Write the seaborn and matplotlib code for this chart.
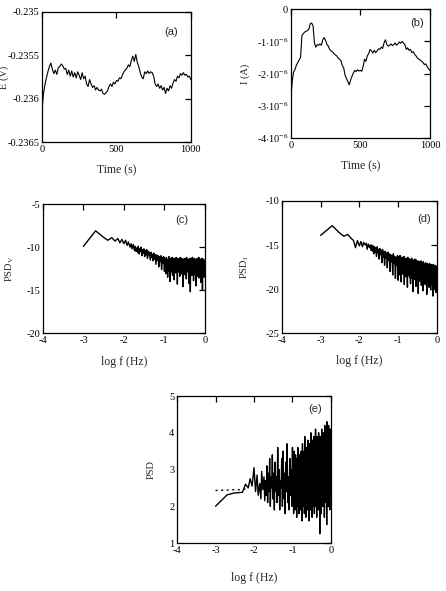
import numpy as np
import pandas as pd
import matplotlib
matplotlib.use("Agg")
import matplotlib.pyplot as plt
import seaborn as sns

# ---------------- data ----------------
time_a = np.linspace(0, 1000, 101)
E_volts = [-0.23614, -0.23595, -0.23584, -0.23576, -0.23569, -0.23563, -0.23559, -0.23566, -0.23571, -0.23567,
           -0.23572, -0.23564, -0.23563, -0.23560, -0.23562, -0.23566, -0.23565, -0.23572, -0.23567, -0.23574,
           -0.23568, -0.23575, -0.23570, -0.23576, -0.23569, -0.23573, -0.23578, -0.23570, -0.23577, -0.23574,
           -0.23583, -0.23586, -0.23578, -0.23583, -0.23587, -0.23585, -0.23590, -0.23587, -0.23590, -0.23591,
           -0.23589, -0.23594, -0.23595, -0.23593, -0.23591, -0.23586, -0.23583, -0.23586, -0.23581, -0.23583,
           -0.23579, -0.23580, -0.23576, -0.23577, -0.23573, -0.23569, -0.23567, -0.23565, -0.23561, -0.23563,
           -0.23556, -0.23551, -0.23557, -0.23549, -0.23558, -0.23563, -0.23570, -0.23575, -0.23577, -0.23569,
           -0.23571, -0.23568, -0.23571, -0.23569, -0.23570, -0.23574, -0.23583, -0.23586, -0.23583, -0.23588,
           -0.23585, -0.23590, -0.23587, -0.23594, -0.23588, -0.23591, -0.23585, -0.23588, -0.23582, -0.23578,
           -0.23580, -0.23574, -0.23576, -0.23571, -0.23573, -0.23570, -0.23573, -0.23572, -0.23575, -0.23574,
           -0.23578]

time_b = np.linspace(0, 1000, 101)
I_microamps = [-2.81, -2.25, -1.95, -1.88, -1.74, -1.66, -1.58, -1.50, -0.82, -0.76,
               -0.71, -0.69, -0.66, -0.62, -0.45, -0.43, -0.52, -1.05, -1.18, -1.10,
               -1.12, -1.08, -1.12, -0.95, -0.88, -0.97, -1.10, -1.15, -1.25, -1.30,
               -1.33, -1.38, -1.42, -1.45, -1.52, -1.55, -1.60, -1.75, -1.82, -2.05,
               -2.15, -2.25, -2.35, -2.20, -2.08, -1.98, -1.90, -1.94, -1.88, -1.92,
               -1.90, -1.93, -1.78, -1.55, -1.62, -1.45, -1.38, -1.25, -1.30, -1.36,
               -1.28, -1.35, -1.30, -1.23, -1.25, -1.18, -1.22, -1.05, -0.95, -1.10,
               -1.15, -1.12, -1.08, -1.13, -1.10, -1.05, -1.12, -1.08, -1.02, -1.06,
               -1.00, -1.05, -1.10, -1.25, -1.20, -1.28, -1.25, -1.35, -1.32, -1.40,
               -1.45, -1.52, -1.55, -1.58, -1.62, -1.65, -1.72, -1.70, -1.78, -1.85,
               -1.90]

# frequency grid (log10 f): first 20 harmonics, then a mid and a dense band
logf_low = [-3.00, -2.70, -2.52, -2.40, -2.30, -2.22, -2.15, -2.10, -2.05, -2.00,
            -1.96, -1.92, -1.89, -1.85, -1.82, -1.80, -1.77, -1.74, -1.72, -1.70]
logf_mid = np.linspace(-1.68, -1.0, 40)
logf_high = np.linspace(-0.99, 0.0, 100)

psdv_low = [-9.9, -8.1, -8.8, -9.2, -8.9, -9.3, -9.0, -9.5, -9.1, -9.6,
            -9.2, -9.8, -9.4, -10.0, -9.6, -10.2, -9.7, -10.4, -9.9, -10.5]
psdv_mid = [-10.1, -10.6, -9.9, -10.8, -10.2, -10.5, -10.0, -11.0, -10.3, -10.7,
            -10.2, -11.1, -10.4, -10.9, -10.3, -11.3, -10.5, -11.0, -10.6, -11.5,
            -10.6, -11.2, -10.8, -11.6, -10.7, -11.4, -10.9, -12.0, -10.9, -11.5,
            -11.0, -12.3, -11.1, -11.7, -11.0, -12.6, -11.2, -11.9, -11.1, -12.8]
psdv_high = [-11.3, -12.6, -11.5, -13.1, -11.2, -12.4, -11.6, -13.5, -11.4, -12.8,
             -11.1, -12.5, -11.7, -14.0, -11.3, -12.9, -11.5, -12.3, -11.2, -13.3,
             -11.6, -12.7, -11.3, -13.8, -11.4, -12.6, -11.8, -13.0, -11.2, -12.4,
             -11.5, -14.3, -11.3, -12.9, -11.7, -12.5, -11.4, -13.4, -11.2, -12.7,
             -11.6, -13.1, -11.3, -12.6, -11.8, -14.6, -11.4, -12.8, -11.5, -13.2,
             -11.3, -12.5, -11.7, -13.7, -11.2, -12.9, -11.6, -12.4, -11.4, -14.2,
             -11.5, -13.0, -11.3, -15.2, -11.6, -12.7, -11.4, -13.3, -11.2, -12.6,
             -11.7, -13.9, -11.3, -12.8, -11.5, -13.2, -11.4, -14.5, -11.6, -12.7,
             -11.3, -13.4, -11.5, -12.9, -11.2, -13.6, -11.7, -12.6, -11.4, -14.1,
             -11.5, -13.0, -11.3, -15.0, -11.6, -12.8, -11.4, -13.5, -11.7, -12.9]

psdi_low = [-13.9, -12.8, -13.6, -14.0, -13.8, -14.2, -14.5, -15.3, -14.5, -15.1,
            -14.6, -15.2, -14.7, -15.0, -14.8, -15.5, -14.9, -15.3, -15.0, -15.6]
psdi_mid = [-15.0, -15.7, -15.1, -16.0, -15.2, -15.8, -15.3, -16.3, -15.2, -15.9,
            -15.5, -16.6, -15.4, -16.1, -15.6, -17.0, -15.5, -16.4, -15.8, -17.3,
            -15.7, -16.5, -15.9, -17.6, -15.8, -16.7, -16.0, -18.0, -16.1, -16.9,
            -16.2, -18.4, -16.0, -17.1, -16.3, -18.8, -16.4, -17.3, -16.2, -19.0]
psdi_high = [-16.3, -17.9, -16.5, -18.4, -16.2, -17.7, -16.6, -19.2, -16.4, -18.0,
             -16.4, -18.3, -16.6, -17.9, -16.3, -19.5, -16.5, -18.2, -16.7, -18.6,
             -16.5, -18.0, -16.7, -19.8, -16.4, -18.5, -16.8, -18.2, -16.6, -18.7,
             -16.6, -19.4, -16.8, -18.3, -16.5, -18.8, -16.9, -20.3, -16.7, -18.5,
             -16.8, -18.9, -16.6, -18.4, -17.0, -19.7, -16.7, -18.6, -16.9, -19.0,
             -16.8, -20.5, -17.0, -18.7, -16.9, -19.1, -17.1, -18.8, -16.8, -19.6,
             -17.0, -18.9, -17.2, -20.2, -16.9, -19.2, -17.1, -18.9, -17.3, -19.5,
             -17.0, -19.1, -17.2, -20.6, -17.1, -19.3, -17.4, -19.0, -17.2, -19.8,
             -17.1, -19.3, -17.3, -20.1, -17.2, -19.5, -17.5, -19.2, -17.3, -20.8,
             -17.2, -19.4, -17.5, -19.9, -17.3, -19.6, -17.6, -20.4, -17.4, -19.5]

psd_low = [2.00, 2.31, 2.36, 2.37, 2.38, 2.60, 2.50, 2.75, 2.55, 3.05,
           2.40, 2.85, 2.30, 2.62, 2.20, 2.95, 2.45, 2.80, 2.15, 2.70]
psd_mid = [2.3, 3.1, 2.1, 2.9, 2.4, 3.3, 2.0, 2.8, 2.5, 3.4,
           2.2, 2.9, 1.9, 3.2, 2.4, 2.8, 2.1, 3.6, 2.3, 3.0,
           1.9, 2.7, 2.5, 3.3, 2.0, 3.5, 2.2, 2.9, 1.8, 3.2,
           2.4, 3.7, 2.1, 2.8, 1.9, 3.3, 2.3, 3.0, 2.0, 3.6]
psd_high = [2.1, 3.2, 1.8, 3.5, 2.3, 3.0, 1.9, 3.4, 2.2, 3.1,
            1.7, 3.3, 2.4, 3.6, 2.0, 3.1, 1.8, 3.4, 2.3, 3.2,
            1.9, 3.5, 2.1, 3.3, 1.6, 3.7, 2.3, 3.2, 2.0, 3.5,
            1.8, 3.9, 2.2, 3.4, 1.7, 3.6, 2.4, 3.3, 1.9, 3.8,
            2.1, 3.5, 1.6, 3.7, 2.3, 3.4, 1.9, 4.0, 2.2, 3.6,
            1.7, 3.8, 2.4, 3.5, 2.0, 3.9, 1.8, 3.6, 2.3, 4.1,
            2.0, 3.7, 1.7, 3.9, 2.4, 3.6, 1.9, 4.0, 2.2, 3.8,
            1.25, 3.9, 2.3, 3.7, 1.8, 4.1, 2.5, 3.8, 2.0, 4.0,
            2.3, 3.9, 1.7, 4.2, 2.4, 3.8, 2.1, 4.0, 1.5, 4.3,
            2.5, 3.9, 2.0, 4.2, 2.3, 3.8, 1.9, 4.1, 2.4, 3.6]
logf_ref = [-3.00, -2.70, -2.52, -2.40, -2.30, -2.22]
psd_ref = [2.43, 2.44, 2.45, 2.45, 2.46, 2.47]

yticks_b = [0, -1e-6, -2e-6, -3e-6, -4e-6]
yticklabels_b = ["0", r"-1$\cdot$10$^{-6}$", r"-2$\cdot$10$^{-6}$", r"-3$\cdot$10$^{-6}$", r"-4$\cdot$10$^{-6}$"]

# ---------------- style ----------------
sns.set_theme(style="white")
plt.rcParams.update({
    "font.family": ["Liberation Serif", "DejaVu Serif"],
    "mathtext.fontset": "custom",
    "mathtext.rm": "Liberation Serif",
    "mathtext.it": "Liberation Serif:italic",
    "mathtext.bf": "Liberation Serif:bold",
    "axes.unicode_minus": False,
    "axes.edgecolor": "black",
    "axes.linewidth": 0.9,
    "xtick.direction": "in",
    "ytick.direction": "in",
    "xtick.top": True,
    "ytick.right": True,
    "xtick.major.size": 4,
    "ytick.major.size": 4,
    "xtick.major.width": 0.9,
    "ytick.major.width": 0.9,
    "xtick.color": "black",
    "ytick.color": "black",
})

fig = plt.figure(figsize=(4.46, 5.91), dpi=100)
fig.patch.set_facecolor("white")

LW = 0.8
LW_PSD = 1.0
TICK_FS = 7.5
XLAB_FS = 8.5
YLAB_FS = 7.5
LET_FS = 8


def line(ax, x, y, lw=LW, **kw):
    df = pd.DataFrame({"x": np.asarray(x, dtype=float), "y": np.asarray(y, dtype=float)})
    sns.lineplot(data=df, x="x", y="y", ax=ax, color="black", lw=lw,
                 estimator=None, sort=False, legend=False, **kw)


def finish(ax, xlab, ylab, letter, ylabx, xlaby, letpos):
    ax.set_xlabel(xlab, fontsize=XLAB_FS)
    ax.set_ylabel(ylab, fontsize=YLAB_FS)
    ax.yaxis.set_label_coords(ylabx, 0.5)
    ax.xaxis.set_label_coords(0.5, xlaby)
    ax.tick_params(labelsize=TICK_FS, pad=2)
    ax.text(letpos[0], letpos[1], letter, transform=ax.transAxes, fontsize=LET_FS,
            family=["Liberation Sans", "DejaVu Sans"], ha="center", va="center")
    for s in ax.spines.values():
        s.set_visible(True)
        s.set_color("black")


# (a)
ax_a = fig.add_axes([0.094, 0.7597, 0.334, 0.220])
line(ax_a, time_a, E_volts)
ax_a.set_xlim(0, 1000)
ax_a.set_ylim(-0.2365, -0.235)
ax_a.set_xticks([0, 500, 1000])
ax_a.set_yticks([-0.235, -0.2355, -0.236, -0.2365])
ax_a.set_yticklabels(["-0.235", "-0.2355", "-0.236", "-0.2365"])
finish(ax_a, "Time (s)", "E (V)", "(a)", -0.22, -0.175, (0.87, 0.85))

# (b)
ax_b = fig.add_axes([0.652, 0.7665, 0.312, 0.218])
line(ax_b, time_b, np.array(I_microamps) * 1e-6)
ax_b.set_xlim(0, 1000)
ax_b.set_ylim(-4e-6, 0)
ax_b.set_xticks([0, 500, 1000])
ax_b.set_yticks(yticks_b)
ax_b.set_yticklabels(yticklabels_b)
finish(ax_b, "Time (s)", "I (A)", "(b)", -0.295, -0.17, (0.91, 0.89))

# (c)
ax_c = fig.add_axes([0.0964, 0.4365, 0.363, 0.218])
line(ax_c, list(logf_low) + list(logf_mid) + list(logf_high), psdv_low + psdv_mid + psdv_high, lw=LW_PSD)
ax_c.set_xlim(-4, 0)
ax_c.set_ylim(-20, -5)
ax_c.set_xticks([-4, -3, -2, -1, 0])
ax_c.set_yticks([-20, -15, -10, -5])
finish(ax_c, "log f (Hz)", r"PSD$_\mathrm{V}$", "(c)", -0.167, -0.175, (0.86, 0.88))

# (d)
ax_d = fig.add_axes([0.632, 0.4365, 0.3475, 0.2234])
line(ax_d, list(logf_low) + list(logf_mid) + list(logf_high), psdi_low + psdi_mid + psdi_high, lw=LW_PSD)
ax_d.set_xlim(-4, 0)
ax_d.set_ylim(-25, -10)
ax_d.set_xticks([-4, -3, -2, -1, 0])
ax_d.set_yticks([-25, -20, -15, -10])
finish(ax_d, "log f (Hz)", r"PSD$_\mathrm{I}$", "(d)", -0.2, -0.17, (0.92, 0.86))

# (e)
ax_e = fig.add_axes([0.397, 0.0812, 0.345, 0.2487])
line(ax_e, list(logf_low) + list(logf_mid) + list(logf_high), psd_low + psd_mid + psd_high, lw=LW_PSD)
line(ax_e, logf_ref, psd_ref, lw=1.0, linestyle=(0, (1.5, 2.5)))
ax_e.set_xlim(-4, 0)
ax_e.set_ylim(1, 5)
ax_e.set_xticks([-4, -3, -2, -1, 0])
ax_e.set_yticks([1, 2, 3, 4, 5])
finish(ax_e, "log f (Hz)", "PSD", "(e)", -0.136, -0.2, (0.90, 0.91))

fig.savefig("out.png", dpi=100, facecolor="white")
